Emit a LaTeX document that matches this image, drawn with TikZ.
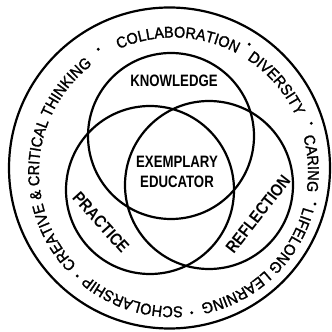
\documentclass[tikz,border=0pt]{standalone}
\usepackage{fontspec}
\setmainfont{Liberation Sans}
\newfontfamily\ringfont{Liberation Sans}[FakeStretch=0.92,FakeBold=1.5]
\newfontfamily\labfont{Liberation Sans}[FakeStretch=0.8]
\newfontfamily\sidefont{Liberation Sans}[FakeStretch=0.86]
\usetikzlibrary{decorations.text}
\tikzset{
  ringline/.style={line width=2.2pt, draw=black},
  venn/.style={line width=2.2pt, draw=black},
  lab/.style={font=\labfont\bfseries\fontsize{16.5}{19.5}\selectfont, align=center, inner sep=0pt},
  sidelab/.style={font=\sidefont\bfseries\fontsize{17}{17}\selectfont, inner sep=0pt},
  ringword/.style={decorate, decoration={text along path, text align=center,
      text={|\ringfont\fontsize{15.6}{15.6}\selectfont|#1}}},
  sepdot/.style={circle, fill=black, inner sep=0pt, minimum size=3.2pt},
}
\begin{document}
\begin{tikzpicture}[x=1pt,y=1pt]
\useasboundingbox (0,0) rectangle (332,332);
% outer ring
\draw[ringline] (169.5,164) circle[radius=160.5];
% venn circles
\draw[venn] (171,196) circle[radius=83];
\draw[venn] (150,142) circle[radius=84];
\draw[venn] (209,147) circle[radius=84];
% ring text
\coordinate (T) at (173.5,160);
\path[ringword={CREATIVE {\&} CRITICAL THINKING}] ([shift={(245.5:134.5)}]T) arc[start angle=245.5, end angle=105.5, radius=134.5];
\path[ringword={COLLABORATION}] ([shift={(140:134.5)}]T) arc[start angle=140, end angle=36, radius=134.5];
\path[ringword={DIVERSITY}] ([shift={(75:134.5)}]T) arc[start angle=75, end angle=6.4, radius=134.5];
\path[ringword={CARING}] ([shift={(33.5:134.5)}]T) arc[start angle=33.5, end angle=-26.5, radius=134.5];
\path[ringword={LIFELONG LEARNING}] ([shift={(-5:134.5)}]T) arc[start angle=-5, end angle=-88.4, radius=134.5];
\path[ringword={SCHOLARSHIP}] ([shift={(-70:134.5)}]T) arc[start angle=-70, end angle=-146, radius=134.5];
% separators
\node[sepdot] (d1) at (98.3,282.7) {};
\node[sepdot] (d2) at (249.3,287.7) {};
\node[sepdot] (d3) at (311.3,208.7) {};
\node[sepdot] (d4) at (315,128) {};
\node[sepdot] (d5) at (191.7,19.3) {};
\node[sepdot] (d6) at (77.3,56) {};
% labels
\node[lab] (know) at (174,251) {KNOWLEDGE};
\node[lab] (exem) at (177,160.3) {EXEMPLARY\\EDUCATOR};
\node[sidelab, rotate=-48] (prac) at (101,109.5) {PRACTICE};
\node[sidelab, rotate=52] (refl) at (258,118) {REFLECTION};
\end{tikzpicture}
\end{document}
